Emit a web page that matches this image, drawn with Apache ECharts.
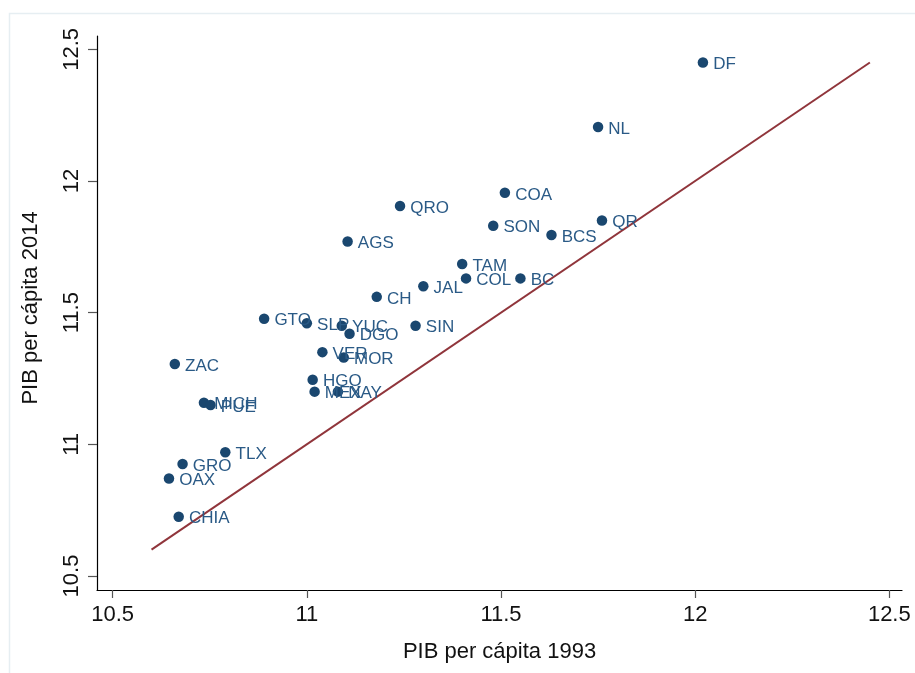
<!DOCTYPE html>
<html>
<head>
<meta charset="utf-8">
<script src="https://cdn.jsdelivr.net/npm/echarts@6/dist/echarts.min.js"></script>
<style>html,body{margin:0;padding:0;background:#fff}#c{width:915px;height:673px}</style>
</head>
<body>
<div id="c"></div>
<script>
const states = ['DF','NL','QR','COA','QRO','SON','BCS','AGS','TAM','COL','BC','JAL','CH','SIN','SLP','YUC','DGO','VER','MOR','HGO','MEX','NAY','GTO','ZAC','MICH','PUE','TLX','GRO','OAX','CHIA'];
const pib1993 = [12.02,11.75,11.76,11.51,11.24,11.48,11.63,11.105,11.40,11.41,11.55,11.30,11.18,11.28,11.00,11.09,11.11,11.04,11.095,11.015,11.02,11.08,10.89,10.66,10.735,10.752,10.79,10.68,10.645,10.67];
const pib2014 = [12.45,12.205,11.85,11.955,11.905,11.83,11.795,11.77,11.685,11.63,11.63,11.60,11.56,11.45,11.46,11.45,11.42,11.35,11.33,11.245,11.20,11.20,11.477,11.305,11.158,11.149,10.97,10.925,10.87,10.725];
const lineX = [10.6, 12.45];
const lineY = [10.6, 12.45];
const xTicks = [10.5, 11, 11.5, 12, 12.5];
const yTicks = [10.5, 11, 11.5, 12, 12.5];

const navy = '#1a476f';
const font = 'Liberation Sans, Arial, Helvetica, sans-serif';
const chart = echarts.init(document.getElementById('c'), null, {renderer: 'canvas'});
chart.setOption({
  backgroundColor: '#ffffff',
  animation: false,
  graphic: [{
    type: 'rect', left: 7, top: 11, silent: true, z: -1,
    shape: {x: 0, y: 0, width: 1200, height: 1200},
    style: {fill: 'none', stroke: '#e6eef2', lineWidth: 1.5}
  }],
  grid: {left: 97, top: 36, right: 13, bottom: 83, containLabel: false},
  xAxis: {
    type: 'value', min: 10.4596, max: 12.5327,
    name: 'PIB per cápita 1993', nameLocation: 'middle', nameGap: 51,
    nameTextStyle: {fontFamily: font, fontSize: 22, color: '#111'},
    axisLine: {show: true, onZero: false, lineStyle: {color: '#000', width: 1.2}},
    axisTick: {show: true, length: 8, customValues: xTicks, lineStyle: {color: '#555', width: 1.2}},
    axisLabel: {customValues: xTicks, margin: 14, fontFamily: font, fontSize: 22, color: '#111',
      formatter: v => String(v)},
    splitLine: {show: false}
  },
  yAxis: {
    type: 'value', min: 10.4468, max: 12.5505,
    name: 'PIB per cápita 2014', nameLocation: 'middle', nameGap: 55, nameRotate: 90,
    nameTextStyle: {fontFamily: font, fontSize: 22, color: '#111', padding: [0, 0, 0, 10]},
    axisLine: {show: true, onZero: false, lineStyle: {color: '#000', width: 1.2}},
    axisTick: {show: true, length: 9, customValues: yTicks, lineStyle: {color: '#555', width: 1.2}},
    axisLabel: {customValues: yTicks, margin: 14, rotate: 90, fontFamily: font, fontSize: 22, color: '#111',
      formatter: v => String(v)},
    splitLine: {show: false}
  },
  series: [
    {
      type: 'line',
      data: lineX.map((x, i) => [x, lineY[i]]),
      symbol: 'none',
      lineStyle: {color: '#90353b', width: 2},
      z: 1
    },
    {
      type: 'scatter',
      data: states.map((s, i) => [pib1993[i], pib2014[i], s]),
      symbol: 'circle', symbolSize: 10.5,
      itemStyle: {color: navy, opacity: 1},
      label: {
        show: true, position: 'right', distance: 5, offset: [0, 2],
        formatter: p => p.data[2],
        fontFamily: font, fontSize: 17, color: '#2a5a86'
      },
      z: 2
    }
  ]
});
</script>
</body>
</html>
